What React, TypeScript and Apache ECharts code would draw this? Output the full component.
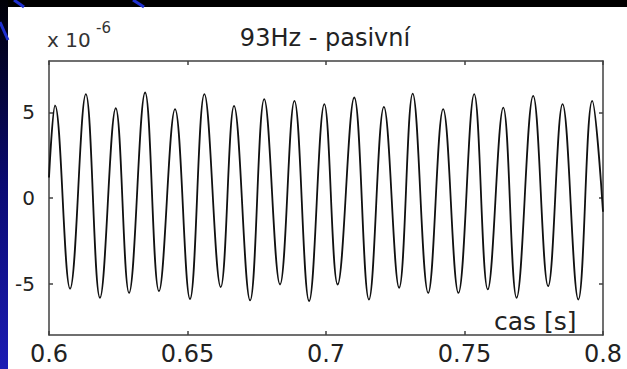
import React, { useEffect, useRef } from "react";
import * as echarts from "echarts";

// time [s] of each read-off extreme (plus the two end points)
const times = [
  0.6, 0.6022, 0.6076, 0.6133, 0.6184, 0.6241, 0.6289, 0.6347, 0.6397, 0.6455,
  0.6509, 0.6561, 0.662, 0.6668, 0.6726, 0.6777, 0.6834, 0.6886, 0.6939, 0.6994,
  0.7042, 0.7102, 0.7155, 0.7209, 0.7264, 0.7313, 0.7369, 0.7423, 0.7478, 0.7535,
  0.7584, 0.764, 0.7688, 0.7748, 0.7802, 0.7854, 0.7911, 0.7961, 0.8,
];
// signal value (x 10^-6)
const values = [
  1.2, 5.4, -5.3, 6.06, -5.83, 5.24, -5.54, 6.16, -5.44, 5.19,
  -5.9, 6.06, -5.2, 5.38, -5.98, 5.77, -5.05, 5.67, -6.02, 5.48,
  -5.05, 5.87, -5.93, 5.32, -5.24, 6.1, -5.54, 5.19, -5.54, 6.06,
  -5.34, 5.28, -5.83, 5.96, -5.15, 5.48, -5.93, 5.67, -0.8,
];
const yTickValues = [-5, 0, 5];
const titleText = "93Hz - pasivní";
const xAxisName = "cas [s]";
const scaleBase = "x 10";
const scaleExp = "-6";

const FONT = "DejaVu Sans";
const AXIS_COLOR = "#404040";

export default function App() {
  const ref = useRef<HTMLDivElement>(null);

  useEffect(() => {
    if (!ref.current) return;
    const chart = echarts.init(ref.current, undefined, { renderer: "svg" });
    const data = times.map((t, i) => [t, values[i]]);

    const axisLineStyle = { color: AXIS_COLOR, width: 1.5 };

    chart.setOption({
      animation: false,
      backgroundColor: "#ffffff",
      title: {
        text: titleText,
        left: 320,
        top: 21,
        textAlign: "center",
        textStyle: { fontFamily: FONT, fontSize: 24, fontWeight: "normal", color: "#222" },
      },
      grid: { left: 49, right: 24, top: 61, bottom: 34, containLabel: false },
      xAxis: [
        {
          type: "value",
          min: 0.6,
          max: 0.8,
          interval: 0.05,
          position: "bottom",
          axisLine: { show: true, onZero: false, lineStyle: axisLineStyle },
          axisTick: { show: true, inside: true, length: 4, lineStyle: axisLineStyle },
          axisLabel: { margin: 7, fontFamily: FONT, fontSize: 24, color: "#222" },
          splitLine: { show: false },
        },
        {
          type: "value",
          min: 0.6,
          max: 0.8,
          interval: 0.05,
          position: "top",
          axisLine: { show: true, onZero: false, lineStyle: axisLineStyle },
          axisTick: { show: true, inside: true, length: 4, lineStyle: axisLineStyle },
          axisLabel: { show: false },
          splitLine: { show: false },
        },
      ],
      yAxis: [
        {
          type: "value",
          min: -8,
          max: 8,
          position: "left",
          axisLine: { show: true, onZero: false, lineStyle: axisLineStyle },
          axisTick: { show: true, inside: true, length: 4, lineStyle: axisLineStyle, customValues: yTickValues },
          axisLabel: { margin: 14, fontFamily: FONT, fontSize: 20, color: "#222", customValues: yTickValues },
          splitLine: { show: false },
        },
        {
          type: "value",
          min: -8,
          max: 8,
          position: "right",
          axisLine: { show: true, onZero: false, lineStyle: axisLineStyle },
          axisTick: { show: true, inside: true, length: 4, lineStyle: axisLineStyle, customValues: yTickValues },
          axisLabel: { show: false, customValues: yTickValues },
          splitLine: { show: false },
        },
      ],
      series: [
        {
          type: "line",
          xAxisIndex: 0,
          yAxisIndex: 0,
          data,
          showSymbol: false,
          smooth: 0.4,
          lineStyle: { color: "#111", width: 1.8 },
          z: 3,
        },
      ],
      graphic: [
        { type: "rect", z: -10, silent: true, shape: { x: 0, y: 0, width: 627, height: 7 }, style: { fill: "#000000" } },
        {
          type: "rect",
          z: -10,
          silent: true,
          shape: { x: 0, y: 0, width: 8, height: 369 },
          style: {
            fill: new echarts.graphic.LinearGradient(0, 0, 0, 1, [
              { offset: 0, color: "#000006" },
              { offset: 0.5, color: "#0a0a72" },
              { offset: 1, color: "#1c1cb4" },
            ]),
          },
        },
        { type: "line", z: -9, silent: true, shape: { x1: 0, y1: 22, x2: 8, y2: 40 }, style: { stroke: "#1f30d0", lineWidth: 3 } },
        { type: "line", z: -9, silent: true, shape: { x1: 14, y1: 0, x2: 24, y2: 7 }, style: { stroke: "#1f30d0", lineWidth: 3 } },
        { type: "line", z: -9, silent: true, shape: { x1: 133, y1: 0, x2: 144, y2: 7 }, style: { stroke: "#1f30d0", lineWidth: 3 } },
        {
          type: "text",
          z: 10,
          x: 47,
          y: 40,
          style: { text: scaleBase, fontFamily: FONT, fontSize: 20, fill: "#333", align: "left", verticalAlign: "middle" },
        },
        {
          type: "text",
          z: 10,
          x: 96,
          y: 28,
          style: { text: scaleExp, fontFamily: FONT, fontSize: 15, fill: "#333", align: "left", verticalAlign: "middle" },
        },
        {
          type: "text",
          z: 10,
          x: 494,
          y: 321,
          style: { text: xAxisName, fontFamily: FONT, fontSize: 25, fill: "#222", align: "left", verticalAlign: "middle" },
        },
      ],
    });

    return () => chart.dispose();
  }, []);

  return (
    <div
      ref={ref}
      style={{ position: "absolute", left: 0, top: 0, width: 627, height: 369 }}
    />
  );
}
